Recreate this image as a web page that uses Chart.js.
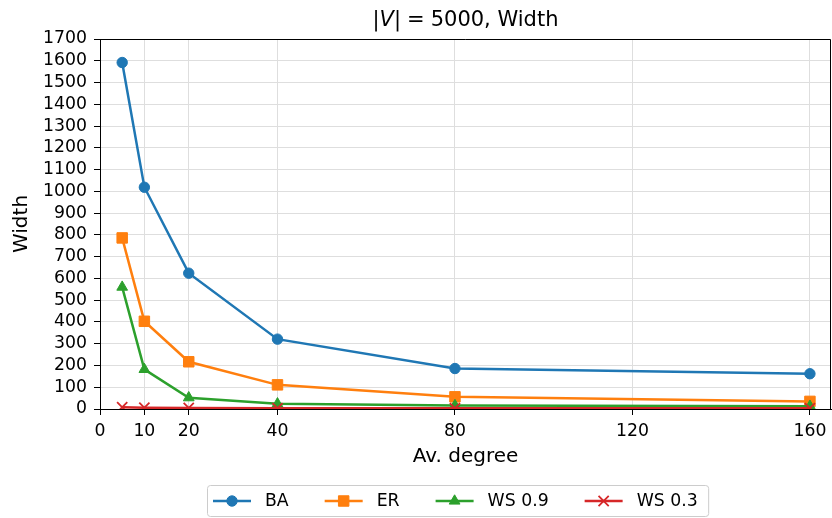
<!DOCTYPE html>
<html>
<head>
<meta charset="utf-8">
<script src="https://cdn.jsdelivr.net/npm/chart.js"></script>
<style>
  html, body { margin: 0; padding: 0; background: #fff; }
  #wrap { width: 832px; height: 518px; }
</style>
</head>
<body>
<div id="wrap"><canvas id="widthChart" width="832" height="518"></canvas></div>
<script>
    // values
    const degrees = [5, 10, 20, 40, 80, 160];
    const ba   = [1592, 1019, 624, 321, 186, 162];
    const er   = [786, 403, 217, 111, 56, 35];
    const ws09 = [560, 182, 52, 24, 16, 13];
    const ws03 = [8, 6, 5, 4, 4, 4];
    const xTicks = [0, 10, 20, 40, 80, 120, 160];
    const seriesNames = ['BA', 'ER', 'WS 0.9', 'WS 0.3'];

    const FONT = "'DejaVu Sans', sans-serif";
    const pts = vals => degrees.map((d, i) => ({ x: d, y: vals[i] }));

    const styles = [
        { color: '#1f77b4', pointStyle: 'circle',   radius: 5.2, bw: 1 },
        { color: '#ff7f0e', pointStyle: 'rect',     radius: 7.4, bw: 1 },
        { color: '#2ca02c', pointStyle: 'triangle', radius: 6.2, bw: 1 },
        { color: '#d62728', pointStyle: 'crossRot', radius: 7.2, bw: 1.8 }
    ];
    const allValues = [ba, er, ws09, ws03];

    const datasets = allValues.map((vals, i) => ({
        label: seriesNames[i],
        data: pts(vals),
        borderColor: styles[i].color,
        backgroundColor: styles[i].color,
        borderWidth: 2.5,
        pointStyle: styles[i].pointStyle,
        pointRadius: styles[i].radius,
        pointHoverRadius: styles[i].radius,
        pointBorderWidth: styles[i].bw,
        pointBackgroundColor: styles[i].color,
        pointBorderColor: styles[i].color,
        tension: 0,
        order: 4 - i
    }));

    // box round the plot (top and right spines)
    const frame = {
        id: 'frame',
        afterDraw(chart) {
            const { ctx, chartArea: a } = chart;
            ctx.save();
            ctx.strokeStyle = '#000';
            ctx.lineWidth = 1;
            ctx.beginPath();
            ctx.moveTo(a.left, a.top + 0.5);
            ctx.lineTo(a.right - 0.5, a.top + 0.5);
            ctx.lineTo(a.right - 0.5, a.bottom);
            ctx.stroke();
            ctx.restore();
        }
    };

    // title with italic V, like the mathtext one
    const mathTitle = {
        id: 'mathTitle',
        afterDraw(chart) {
            const { ctx, chartArea: a } = chart;
            const f = '21px ' + FONT;
            const parts = [
                ['|', f, 0],
                ['V', 'italic ' + f, 0],
                ['|', f, 6],
                ['=', f, 6],
                ['5000, Width', f, 0]
            ];
            ctx.save();
            ctx.fillStyle = '#000';
            ctx.textBaseline = 'alphabetic';
            let total = 0;
            parts.forEach(p => { ctx.font = p[1]; total += ctx.measureText(p[0]).width + p[2]; });
            let x = (a.left + a.right) / 2 - total / 2;
            parts.forEach(p => {
                ctx.font = p[1];
                ctx.fillText(p[0], x, 25.5);
                x += ctx.measureText(p[0]).width + p[2];
            });
            ctx.restore();
        }
    };

    // matplotlib style legend: line + marker, boxed
    const lineLegend = {
        id: 'lineLegend',
        afterDraw(chart) {
            const { ctx } = chart;
            const handle = 38, gap = 14, spacing = 36;
            const y = 501;
            ctx.save();
            ctx.font = '17.3px ' + FONT;
            let x = 213;
            const items = chart.data.datasets.map(ds => {
                const w = ctx.measureText(ds.label).width;
                const it = { ds, x, w };
                x += handle + gap + w + spacing;
                return it;
            });
            const right = x - spacing + 11;
            const left = 207.5, top = 485.5, bottom = 516.5, r = 3;
            ctx.strokeStyle = '#cccccc';
            ctx.fillStyle = 'rgba(255,255,255,0.8)';
            ctx.lineWidth = 1;
            ctx.beginPath();
            ctx.roundRect(left, top, right - left, bottom - top, r);
            ctx.fill();
            ctx.stroke();
            items.forEach(it => {
                const ds = it.ds;
                ctx.strokeStyle = ds.borderColor;
                ctx.fillStyle = ds.borderColor;
                ctx.lineWidth = ds.borderWidth;
                ctx.beginPath();
                ctx.moveTo(it.x, y);
                ctx.lineTo(it.x + handle, y);
                ctx.stroke();
                ctx.lineWidth = ds.pointBorderWidth;
                Chart.helpers.drawPoint(ctx, {
                    pointStyle: ds.pointStyle,
                    radius: ds.pointRadius,
                    rotation: 0,
                    borderWidth: ds.pointBorderWidth
                }, it.x + handle / 2, y);
                ctx.fillStyle = '#000';
                ctx.textBaseline = 'middle';
                ctx.fillText(ds.label, it.x + handle + gap, y + 1);
            });
            ctx.restore();
        }
    };

    const ctx = document.getElementById('widthChart').getContext('2d');
    new Chart(ctx, {
        type: 'line',
        data: { datasets: datasets },
        plugins: [frame, mathTitle, lineLegend],
        options: {
            responsive: false,
            animation: false,
            devicePixelRatio: 1,
            layout: { autoPadding: false, padding: { top: 39, right: 1, bottom: 49, left: 0 } },
            plugins: {
                legend: { display: false },
                title: { display: false },
                tooltip: { enabled: false }
            },
            scales: {
                x: {
                    type: 'linear',
                    min: 0,
                    max: 164.75,
                    afterBuildTicks: s => { s.ticks = xTicks.map(v => ({ value: v })); },
                    afterFit: s => { s.height = 60; s.paddingLeft = 0; s.paddingRight = 0; },
                    grid: { color: '#dedede', lineWidth: 1, tickLength: 6, tickColor: '#000' },
                    border: { color: '#000', width: 1 },
                    ticks: { color: '#000', font: { family: FONT, size: 17.3 }, padding: 6, maxRotation: 0, autoSkip: false },
                    title: {
                        display: true, text: 'Av. degree', color: '#000',
                        font: { family: FONT, size: 20 }, padding: { top: 0, bottom: 0 }
                    }
                },
                y: {
                    min: 0,
                    max: 1700,
                    afterFit: s => { s.width = 100; s.paddingTop = 0; s.paddingBottom = 0; },
                    grid: { color: '#dedede', lineWidth: 1, tickLength: 6, tickColor: '#000' },
                    border: { color: '#000', width: 1 },
                    ticks: {
                        stepSize: 100, autoSkip: false, color: '#000',
                        font: { family: FONT, size: 17.3 }, padding: 7,
                        callback: v => String(v)
                    },
                    title: {
                        display: true, text: 'Width', color: '#000',
                        font: { family: FONT, size: 20 }, padding: { top: 10, bottom: 0 }
                    }
                }
            }
        }
    });
</script>
</body>
</html>
